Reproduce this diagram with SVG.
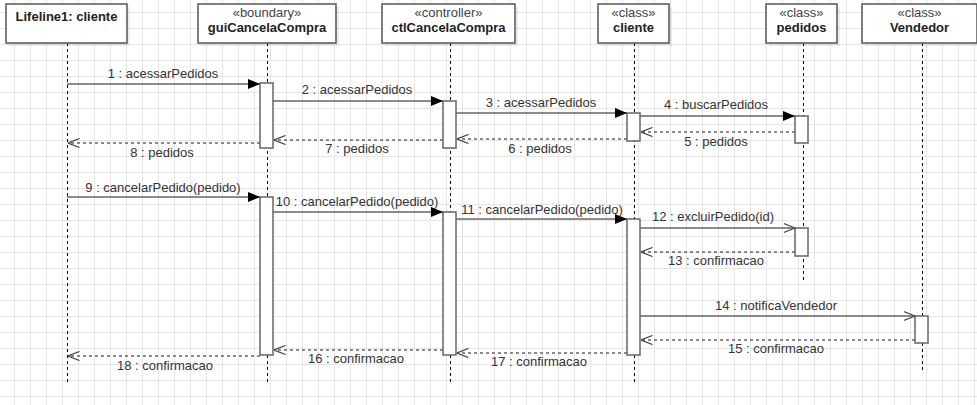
<svg xmlns="http://www.w3.org/2000/svg" width="977" height="405" viewBox="0 0 977 405">
<defs>
<pattern id="grid" x="14" y="12" width="16" height="16" patternUnits="userSpaceOnUse">
<path d="M0.5 0 V16 M0 0.5 H16" fill="none" stroke="#e6e6e6" stroke-width="1"/>
</pattern>
<marker id="filled" viewBox="0 0 12 10" refX="12" refY="5" markerWidth="12" markerHeight="10" markerUnits="userSpaceOnUse" orient="auto">
<path d="M0 0 L12 5 L0 10 Z" fill="#000"/>
</marker>
<marker id="open" viewBox="0 0 12 10" refX="11.5" refY="5" markerWidth="12" markerHeight="10" markerUnits="userSpaceOnUse" orient="auto">
<path d="M0 0.5 L11.5 5 L0 9.5" fill="none" stroke="#444" stroke-width="1.2"/>
</marker>
</defs>
<style>
.hdr{fill:#fff;stroke:#555;stroke-width:1.5}
.shd{fill:#000;opacity:0.07}
.life{stroke:#000;stroke-width:1;stroke-dasharray:3,3;fill:none}
.act{fill:#fff;stroke:#666;stroke-width:1.5}
.msg{stroke:#666;stroke-width:1.5;fill:none}
.ret{stroke:#666;stroke-width:1.5;fill:none;stroke-dasharray:3,3}
text{font-family:"Liberation Sans",Arial,sans-serif;font-size:13px;fill:#333;text-anchor:middle}
.b{font-weight:bold;fill:#222}
.st{fill:#444}
</style>
<rect width="977" height="405" fill="#fff"/>
<rect width="977" height="405" fill="url(#grid)"/>

<g id="lifelines">
<line class="life" x1="67.5" y1="43" x2="67.5" y2="382"/>
<line class="life" x1="267.5" y1="43" x2="267.5" y2="382"/>
<line class="life" x1="450.5" y1="43" x2="450.5" y2="382"/>
<line class="life" x1="634.5" y1="43" x2="634.5" y2="382"/>
<line class="life" x1="803.5" y1="43" x2="803.5" y2="282"/>
<line class="life" x1="922.5" y1="43" x2="922.5" y2="370"/>
</g>

<g id="node-lifeline1">
<rect class="shd" x="9" y="7" width="121" height="39"/>
<rect class="hdr" x="6" y="4" width="121" height="39"/>
<text class="b" x="66.5" y="21">Lifeline1: cliente</text>
</g>
<g id="node-gui">
<rect class="shd" x="201" y="7" width="138" height="39"/>
<rect class="hdr" x="198" y="4" width="138" height="39"/>
<text class="st" x="267" y="17">«boundary»</text>
<text class="b" x="267" y="32">guiCancelaCompra</text>
</g>
<g id="node-ctl">
<rect class="shd" x="385" y="7" width="133" height="39"/>
<rect class="hdr" x="382" y="4" width="133" height="39"/>
<text class="st" x="448.5" y="17">«controller»</text>
<text class="b" x="448.5" y="32">ctlCancelaCompra</text>
</g>
<g id="node-cliente">
<rect class="shd" x="601" y="7" width="71" height="39"/>
<rect class="hdr" x="598" y="4" width="71" height="39"/>
<text class="st" x="633.5" y="17">«class»</text>
<text class="b" x="633.5" y="32">cliente</text>
</g>
<g id="node-pedidos">
<rect class="shd" x="769" y="7" width="71" height="39"/>
<rect class="hdr" x="766" y="4" width="71" height="39"/>
<text class="st" x="801.5" y="17">«class»</text>
<text class="b" x="801.5" y="32">pedidos</text>
</g>
<g id="node-vendedor">
<rect class="shd" x="865" y="7" width="116" height="39"/>
<rect class="hdr" x="862" y="4" width="115" height="39"/>
<text class="st" x="919.5" y="17">«class»</text>
<text class="b" x="919.5" y="32">Vendedor</text>
</g>

<g id="activations">
<rect class="act" x="260" y="83" width="13" height="65"/>
<rect class="act" x="443" y="101" width="13" height="47"/>
<rect class="act" x="627" y="113" width="13" height="28"/>
<rect class="act" x="795" y="116" width="13" height="27"/>
<rect class="act" x="260" y="197" width="13" height="158"/>
<rect class="act" x="443" y="212" width="13" height="143"/>
<rect class="act" x="627" y="219" width="13" height="136"/>
<rect class="act" x="795" y="228" width="13" height="28"/>
<rect class="act" x="915" y="316" width="13" height="27"/>
</g>

<g id="connectors">
<line class="msg" x1="67" y1="84" x2="260" y2="84" marker-end="url(#filled)"/>
<line class="msg" x1="273" y1="101" x2="443" y2="101" marker-end="url(#filled)"/>
<line class="msg" x1="456" y1="113" x2="627" y2="113" marker-end="url(#filled)"/>
<line class="msg" x1="640" y1="116" x2="795" y2="116" marker-end="url(#filled)"/>
<line class="ret" x1="795" y1="132" x2="641" y2="132" marker-end="url(#open)"/>
<line class="ret" x1="627" y1="139" x2="457" y2="139" marker-end="url(#open)"/>
<line class="ret" x1="443" y1="140" x2="274" y2="140" marker-end="url(#open)"/>
<line class="ret" x1="260" y1="143" x2="68" y2="143" marker-end="url(#open)"/>
<line class="msg" x1="67" y1="197" x2="260" y2="197" marker-end="url(#filled)"/>
<line class="msg" x1="273" y1="212" x2="443" y2="212" marker-end="url(#filled)"/>
<line class="msg" x1="456" y1="219" x2="627" y2="219" marker-end="url(#filled)"/>
<line class="msg" x1="640" y1="228" x2="795" y2="228" marker-end="url(#open)"/>
<line class="ret" x1="795" y1="252" x2="641" y2="252" marker-end="url(#open)"/>
<line class="msg" x1="640" y1="316" x2="915" y2="316" marker-end="url(#open)"/>
<line class="ret" x1="915" y1="340" x2="641" y2="340" marker-end="url(#open)"/>
<line class="ret" x1="443" y1="350" x2="274" y2="350" marker-end="url(#open)"/>
<line class="ret" x1="627" y1="353" x2="457" y2="353" marker-end="url(#open)"/>
<line class="ret" x1="260" y1="356" x2="68" y2="356" marker-end="url(#open)"/>
</g>

<g id="labels">
<text x="163" y="78">1 : acessarPedidos</text>
<text x="357" y="94">2 : acessarPedidos</text>
<text x="541" y="107">3 : acessarPedidos</text>
<text x="716" y="109">4 : buscarPedidos</text>
<text x="716" y="146">5 : pedidos</text>
<text x="540" y="153">6 : pedidos</text>
<text x="357" y="153">7 : pedidos</text>
<text x="162" y="157">8 : pedidos</text>
<text x="163" y="192">9 : cancelarPedido(pedido)</text>
<text x="357" y="206">10 : cancelarPedido(pedido)</text>
<text x="542" y="214">11 : cancelarPedido(pedido)</text>
<text x="713" y="221">12 : excluirPedido(id)</text>
<text x="716" y="265">13 : confirmacao</text>
<text x="776" y="310">14 : notificaVendedor</text>
<text x="776" y="353">15 : confirmacao</text>
<text x="356" y="363">16 : confirmacao</text>
<text x="539" y="366">17 : confirmacao</text>
<text x="165" y="370">18 : confirmacao</text>
</g>
</svg>
